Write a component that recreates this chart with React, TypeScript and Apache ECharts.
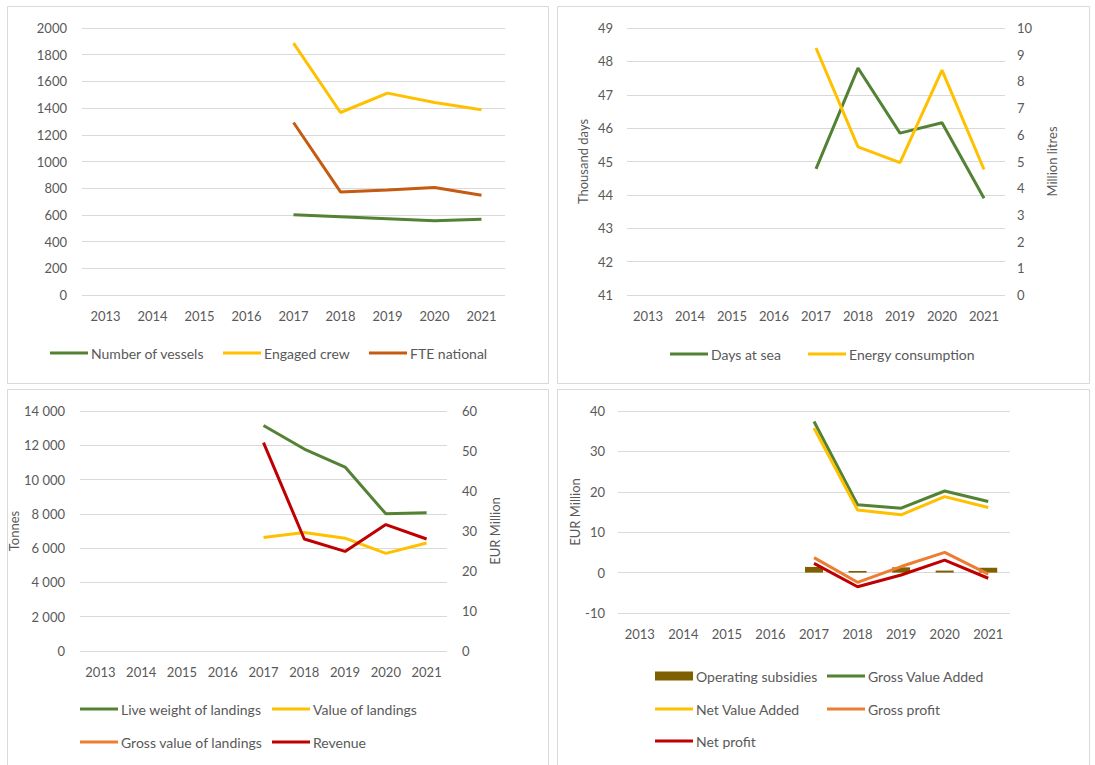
import React, { useEffect, useRef } from "react";
import * as echarts from "echarts";

const years = ["2013", "2014", "2015", "2016", "2017", "2018", "2019", "2020", "2021"];

// Panel 1
const numberOfVessels = [null, null, null, null, 602, 587, 572, 557, 567];
const engagedCrew = [null, null, null, null, 1887, 1367, 1512, 1442, 1387];
const fteNational = [null, null, null, null, 1292, 772, 787, 805, 747];

// Panel 2
const daysAtSea = [null, null, null, null, 44.78, 47.8, 45.85, 46.16, 43.9];
const energyConsumption = [null, null, null, null, 9.25, 5.55, 4.96, 8.42, 4.7];

// Panel 3
const liveWeight = [null, null, null, null, 13150, 11780, 10730, 8000, 8070];
const valueOfLandings = [null, null, null, null, 28.4, 29.6, 28.2, 24.4, 27.0];
const grossValueOfLandings = [null, null, null, null, null, null, null, null, null];
const revenue = [null, null, null, null, 52.1, 28.0, 24.9, 31.6, 28.0];

// Panel 4
const operatingSubsidies = [null, null, null, null, 1.4, 0.4, 1.3, 0.5, 1.2];
const grossValueAdded = [null, null, null, null, 37.4, 16.8, 15.95, 20.2, 17.6];
const netValueAdded = [null, null, null, null, 35.8, 15.5, 14.3, 18.8, 16.1];
const grossProfit = [null, null, null, null, 3.7, -2.4, 1.5, 5.0, -0.4];
const netProfit = [null, null, null, null, 2.3, -3.5, -0.6, 3.1, -1.4];

const GREEN = "#548235";
const YELLOW = "#FFC000";
const BROWN = "#C55A11";
const RED = "#C00000";
const ORANGE = "#ED7D31";
const OLIVE = "#7F6000";
const TXT = "#595959";
const GRID = "#d9d9d9";
const FONT = "Lato, 'Liberation Sans', sans-serif";

const plain = (v: number) => String(v);
const spaceThousands = (v: number) => {
  const s = String(Math.round(v));
  return s.replace(/\B(?=(\d{3})+(?!\d))/g, " ");
};

export default function App() {
  const ref = useRef<HTMLDivElement>(null);

  useEffect(() => {
    if (!ref.current) return;
    const chart = echarts.init(ref.current, null, { renderer: "svg" });

    const grids = [
      { left: 82, top: 28, width: 423, height: 267 },
      { left: 627, top: 28, width: 378, height: 267 },
      { left: 80, top: 411, width: 367, height: 240 },
      { left: 618, top: 411, width: 392, height: 202 },
    ];

    const xAxis = grids.map((_, i) => ({
      type: "category",
      gridIndex: i,
      data: years,
      boundaryGap: true,
      axisLine: { show: false, onZero: false },
      axisTick: { show: false },
      axisLabel: { color: TXT, fontSize: 13, fontFamily: FONT, margin: 14, interval: 0 },
      splitLine: { show: false },
    }));

    const nameStyle = { color: TXT, fontSize: 13, fontFamily: FONT };
    const labelStyle = { color: TXT, fontSize: 13, fontFamily: FONT };
    const split = { show: true, lineStyle: { color: GRID, width: 1 } };

    const yAxis: any[] = [
      {
        type: "value", gridIndex: 0, min: 0, max: 2000, interval: 200,
        axisLabel: { ...labelStyle, margin: 15, formatter: plain }, splitLine: split,
        axisLine: { show: false }, axisTick: { show: false },
      },
      {
        type: "value", gridIndex: 1, min: 41, max: 49, interval: 1,
        axisLabel: { ...labelStyle, margin: 14, formatter: plain }, splitLine: split,
        axisLine: { show: false }, axisTick: { show: false },
        name: "Thousand days", nameLocation: "middle", nameRotate: 90, nameGap: 38,
        nameTextStyle: nameStyle,
      },
      {
        type: "value", gridIndex: 1, position: "right", min: 0, max: 10, interval: 1,
        axisLabel: { ...labelStyle, margin: 12, formatter: plain }, splitLine: { show: false },
        axisLine: { show: false }, axisTick: { show: false },
        name: "Million litres", nameLocation: "middle", nameRotate: 90, nameGap: 40,
        nameTextStyle: nameStyle,
      },
      {
        type: "value", gridIndex: 2, min: 0, max: 14000, interval: 2000,
        axisLabel: { ...labelStyle, margin: 15, formatter: spaceThousands }, splitLine: split,
        axisLine: { show: false }, axisTick: { show: false },
        name: "Tonnes", nameLocation: "middle", nameRotate: 90, nameGap: 55,
        nameTextStyle: nameStyle,
      },
      {
        type: "value", gridIndex: 2, position: "right", min: 0, max: 60, interval: 10,
        axisLabel: { ...labelStyle, margin: 15, formatter: plain }, splitLine: { show: false },
        axisLine: { show: false }, axisTick: { show: false },
        name: "EUR Million", nameLocation: "middle", nameRotate: 90, nameGap: 41,
        nameTextStyle: nameStyle,
      },
      {
        type: "value", gridIndex: 3, min: -10, max: 40, interval: 10,
        axisLabel: { ...labelStyle, margin: 13, formatter: plain }, splitLine: split,
        axisLine: { show: false }, axisTick: { show: false },
        name: "EUR Million", nameLocation: "middle", nameRotate: 90, nameGap: 36,
        nameTextStyle: nameStyle,
      },
    ];

    const line = (name: string, data: any[], color: string, xi: number, yi: number) => ({
      name, type: "line", data, xAxisIndex: xi, yAxisIndex: yi,
      symbol: "none", showSymbol: false, connectNulls: false,
      lineStyle: { color, width: 3 }, itemStyle: { color },
    });

    const series: any[] = [
      line("Number of vessels", numberOfVessels, GREEN, 0, 0),
      line("Engaged crew", engagedCrew, YELLOW, 0, 0),
      line("FTE national", fteNational, BROWN, 0, 0),
      line("Days at sea", daysAtSea, GREEN, 1, 1),
      line("Energy consumption", energyConsumption, YELLOW, 1, 2),
      line("Live weight of landings", liveWeight, GREEN, 2, 3),
      line("Value of landings", valueOfLandings, YELLOW, 2, 4),
      line("Gross value of landings", grossValueOfLandings, ORANGE, 2, 4),
      line("Revenue", revenue, RED, 2, 4),
      {
        name: "Operating subsidies", type: "bar", data: operatingSubsidies,
        xAxisIndex: 3, yAxisIndex: 5, barWidth: 18, itemStyle: { color: OLIVE },
      },
      line("Gross Value Added", grossValueAdded, GREEN, 3, 5),
      line("Net Value Added", netValueAdded, YELLOW, 3, 5),
      line("Gross profit", grossProfit, ORANGE, 3, 5),
      line("Net profit", netProfit, RED, 3, 5),
    ];

    const leg = (name: string, left: number, centerY: number, h = 3) => ({
      data: [{ name, icon: "rect" }], left, top: centerY - 8, itemWidth: 38, itemHeight: h,
      itemGap: 0, padding: 0, selectedMode: false,
      textStyle: { color: TXT, fontSize: 14, fontFamily: FONT, padding: [0, 0, 0, -2] },
    });

    const legend = [
      leg("Number of vessels", 50, 354),
      leg("Engaged crew", 223, 354),
      leg("FTE national", 369, 354),
      leg("Days at sea", 670, 355),
      leg("Energy consumption", 808, 355),
      leg("Live weight of landings", 80, 710),
      leg("Value of landings", 272, 710),
      leg("Gross value of landings", 80, 743),
      leg("Revenue", 272, 743),
      leg("Operating subsidies", 655, 677, 9),
      leg("Gross Value Added", 827, 677),
      leg("Net Value Added", 655, 710),
      leg("Gross profit", 827, 710),
      leg("Net profit", 655, 742),
    ];

    const border = (x: number, y: number, w: number, h: number) => ({
      type: "rect", shape: { x, y, width: w, height: h }, silent: true, z: -1,
      style: { fill: "none", stroke: GRID, lineWidth: 1 },
    });

    chart.setOption({
      animation: false,
      backgroundColor: "#ffffff",
      grid: grids.map((g) => ({ ...g, containLabel: false })),
      xAxis,
      yAxis,
      series,
      legend,
      graphic: [
        border(7.5, 6.5, 541, 377),
        border(557.5, 6.5, 532, 377),
        border(7.5, 389.5, 541, 380),
        border(557.5, 389.5, 532, 380),
      ],
    });

    return () => chart.dispose();
  }, []);

  return (
    <div
      ref={ref}
      style={{ position: "fixed", left: 0, top: 0, width: 1095, height: 765, background: "#fff" }}
    />
  );
}
